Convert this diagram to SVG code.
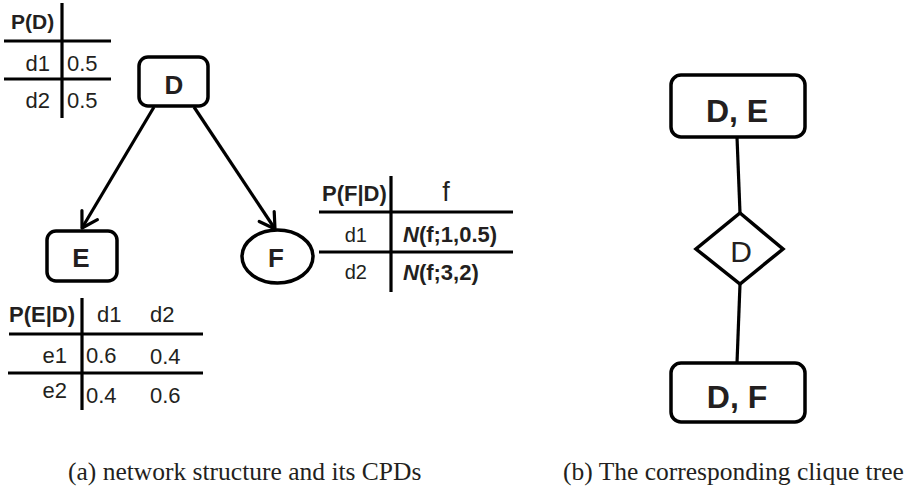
<svg xmlns="http://www.w3.org/2000/svg" width="924" height="493" viewBox="0 0 924 493">
<defs>
<style>
.t{font-family:"Liberation Sans",Arial,sans-serif;fill:#231f20;}
.b{font-weight:bold;}
.r{font-size:22px;}
.rule{stroke:#000;stroke-width:3.2;fill:none;}
.box{fill:#fff;stroke:#000;stroke-width:3.5;}
.edge{stroke:#000;stroke-width:3.2;fill:none;}
.cap{font-family:"Liberation Serif","Times New Roman",serif;font-size:25.5px;fill:#231f20;}
</style>
<marker id="arr" markerUnits="userSpaceOnUse" viewBox="-18 -11 20 22" refX="0" refY="0" markerWidth="20" markerHeight="22" orient="auto">
<path d="M-15,-9 L0,0 L-15,9" fill="none" stroke="#000" stroke-width="3.2" stroke-linejoin="round" stroke-linecap="round"/>
</marker>
</defs>
<rect width="924" height="493" fill="#fff"/>

<g id="connectors">
<line class="edge" x1="154" y1="107" x2="82" y2="228" marker-end="url(#arr)"/>
<line class="edge" x1="194" y1="107" x2="275" y2="229" marker-end="url(#arr)"/>
<line class="edge" x1="737" y1="137" x2="740" y2="213"/>
<line class="edge" x1="740" y1="284" x2="737" y2="363"/>
</g>

<g id="cpd-D">
<line class="rule" x1="62" y1="3" x2="62" y2="118"/>
<line class="rule" x1="4" y1="41" x2="111" y2="41"/>
<line class="rule" x1="4" y1="79" x2="111" y2="79"/>
<text class="t b" x="11" y="29" font-size="21">P(D)</text>
<text class="t r" x="50" y="71" text-anchor="end">d1</text>
<text class="t r" x="67" y="71">0.5</text>
<text class="t r" x="50" y="108" text-anchor="end">d2</text>
<text class="t r" x="67" y="108">0.5</text>
</g>

<g id="node-D">
<rect class="box" x="139" y="57" width="69" height="49" rx="9"/>
<text class="t b" x="174" y="94" font-size="26" text-anchor="middle">D</text>
</g>

<g id="node-E">
<rect class="box" x="47" y="231" width="70" height="50" rx="9"/>
<text class="t b" x="81" y="267" font-size="26" text-anchor="middle">E</text>
</g>

<g id="node-F">
<ellipse class="box" cx="277.5" cy="256.5" rx="35.5" ry="26.5"/>
<text class="t b" x="276" y="267" font-size="26" text-anchor="middle">F</text>
</g>

<g id="cpd-E">
<line class="rule" x1="82" y1="298" x2="82" y2="410"/>
<line class="rule" x1="9" y1="334" x2="203" y2="334"/>
<line class="rule" x1="8" y1="373" x2="203" y2="373"/>
<text class="t b" x="9" y="322" font-size="22">P(E|D)</text>
<text class="t r" x="97" y="322">d1</text>
<text class="t r" x="150" y="322">d2</text>
<text class="t r" x="67" y="363" text-anchor="end">e1</text>
<text class="t r" x="86" y="363">0.6</text>
<text class="t r" x="150" y="364">0.4</text>
<text class="t r" x="67" y="398" text-anchor="end">e2</text>
<text class="t r" x="86" y="403">0.4</text>
<text class="t r" x="150" y="403">0.6</text>
</g>

<g id="cpd-F">
<line class="rule" x1="391" y1="176" x2="391" y2="292"/>
<line class="rule" x1="319" y1="212" x2="513" y2="212"/>
<line class="rule" x1="319" y1="252" x2="513" y2="252"/>
<text class="t b" x="322" y="201" font-size="22">P(F|D)</text>
<text class="t" x="446" y="201" font-size="27" text-anchor="middle">f</text>
<text class="t" x="367" y="242" font-size="20" text-anchor="end">d1</text>
<text class="t b" x="403" y="242" font-size="22"><tspan font-style="italic">N</tspan>(f;1,0.5)</text>
<text class="t" x="367" y="279" font-size="20" text-anchor="end">d2</text>
<text class="t b" x="403" y="280" font-size="22"><tspan font-style="italic">N</tspan>(f;3,2)</text>
</g>

<g id="clique-DE">
<rect class="box" x="671" y="75" width="134" height="62" rx="10"/>
<text class="t b" x="737" y="122" font-size="32" text-anchor="middle">D, E</text>
</g>

<g id="sepset-D">
<polygon class="box" points="740,213 783,249 740,284 696,249"/>
<text class="t" x="741" y="262" font-size="30" text-anchor="middle">D</text>
</g>

<g id="clique-DF">
<rect class="box" x="671" y="363" width="134" height="59" rx="10"/>
<text class="t b" x="737" y="408" font-size="32" text-anchor="middle">D, F</text>
</g>

<g id="captions">
<text class="cap" x="68" y="480">(a) network structure and its CPDs</text>
<text class="cap" x="563" y="480">(b) The corresponding clique tree</text>
</g>
</svg>
